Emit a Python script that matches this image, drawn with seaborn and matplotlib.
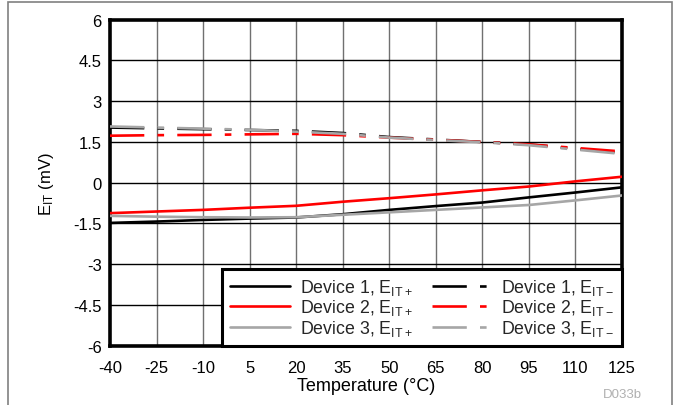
import matplotlib
matplotlib.use("Agg")
import matplotlib.pyplot as plt
import seaborn as sns
import pandas as pd
from matplotlib.patches import Rectangle

# Temperature sweep (°C)
temperature = [-40, -25, -10, 5, 20, 35, 50, 65, 80, 95, 110, 125]

# Rising threshold error E_IT+ (mV)
dev1_pos = [-1.48, -1.43, -1.37, -1.32, -1.28, -1.16, -1.00, -0.86, -0.73, -0.54, -0.36, -0.17]
dev2_pos = [-1.12, -1.06, -1.00, -0.92, -0.85, -0.70, -0.57, -0.43, -0.28, -0.14, 0.05, 0.22]
dev3_pos = [-1.22, -1.25, -1.27, -1.28, -1.27, -1.18, -1.09, -1.00, -0.91, -0.82, -0.65, -0.47]

# Falling threshold error E_IT- (mV)
dev1_neg = [2.03, 2.00, 1.97, 1.94, 1.91, 1.83, 1.68, 1.59, 1.50, 1.41, 1.25, 1.10]
dev2_neg = [1.73, 1.75, 1.76, 1.78, 1.80, 1.75, 1.66, 1.58, 1.50, 1.41, 1.28, 1.15]
dev3_neg = [2.07, 2.03, 1.99, 1.95, 1.88, 1.80, 1.66, 1.57, 1.49, 1.38, 1.22, 1.06]

x_ticks = [-40, -25, -10, 5, 20, 35, 50, 65, 80, 95, 110, 125]
y_ticks = [6, 4.5, 3, 1.5, 0, -1.5, -3, -4.5, -6]
y_tick_labels = ["6", "4.5", "3", "1.5", "0", "-1.5", "-3", "-4.5", "-6"]

sns.set_theme(style="white")
plt.rcParams["font.family"] = ["Liberation Sans", "DejaVu Sans"]
plt.rcParams["mathtext.fontset"] = "custom"
plt.rcParams["mathtext.rm"] = "Liberation Sans"
plt.rcParams["mathtext.it"] = "Liberation Sans"

BLACK = "#000000"
RED = "#FF0000"
GRAY = "#A6A6A6"
DASH = (0, (13, 5, 2.5, 5))
LW = 1.9
FS = 12

fig = plt.figure(figsize=(6.74, 4.06), dpi=100)
ax = fig.add_axes([0.1632, 0.146, 0.7596, 0.803])

series = [
    (dev1_pos, BLACK, "-", "Device 1, E$_{\\mathrm{IT+}}$"),
    (dev2_pos, RED, "-", "Device 2, E$_{\\mathrm{IT+}}$"),
    (dev3_pos, GRAY, "-", "Device 3, E$_{\\mathrm{IT+}}$"),
    (dev1_neg, BLACK, DASH, "Device 1, E$_{\\mathrm{IT\u2212}}$"),
    (dev2_neg, RED, DASH, "Device 2, E$_{\\mathrm{IT\u2212}}$"),
    (dev3_neg, GRAY, DASH, "Device 3, E$_{\\mathrm{IT\u2212}}$"),
]

for values, color, ls, label in series:
    df = pd.DataFrame({"temp": temperature, "eit": values})
    sns.lineplot(data=df, x="temp", y="eit", ax=ax, color=color,
                 linestyle=ls, linewidth=LW, label=label, zorder=3)

ax.set_xlim(-40, 125)
ax.set_ylim(-6, 6)
ax.set_xticks(x_ticks)
ax.set_xticklabels([str(t) for t in x_ticks])
ax.set_yticks(y_ticks)
ax.set_yticklabels(y_tick_labels)
ax.tick_params(axis="both", length=0, labelsize=FS, colors="black")
ax.tick_params(axis="x", pad=10)
ax.tick_params(axis="y", pad=6)

ax.grid(False)
for t in x_ticks[1:-1]:
    ax.axvline(t, color="#707070", linewidth=1.0, zorder=1)
for v in y_ticks[1:-1]:
    ax.axhline(v, color="black", linewidth=1.0, zorder=1)

for side in ["left", "right", "top", "bottom"]:
    ax.spines[side].set_visible(True)
    ax.spines[side].set_color("black")
    ax.spines[side].set_linewidth(2.6)

ax.set_xlabel("Temperature (°C)", fontsize=13, labelpad=1.5, color="black")
ax.set_ylabel("E$_{\\mathrm{IT}}$ (mV)", fontsize=FS, labelpad=12, color="black")

leg = ax.legend(loc="lower right", ncol=2, fontsize=12.8, frameon=True,
                fancybox=False, borderaxespad=0, handlelength=3.35,
                handletextpad=0.55, columnspacing=1.1, labelspacing=0.02,
                borderpad=0.45)
leg.get_frame().set_edgecolor("black")
leg.get_frame().set_linewidth(2.2)
leg.get_frame().set_facecolor("white")
leg.get_frame().set_alpha(1)
leg.set_zorder(5)

fig.text(0.953, 0.027, "D033b", fontsize=9.5, color="#B0B0B0", ha="right", va="center")

# Outer frame around the figure
fig.patches.append(Rectangle((8 / 674, -0.01), (672 - 8) / 674, 1 - 2.5 / 406 + 0.01,
                             transform=fig.transFigure, fill=False,
                             edgecolor="#808080", linewidth=1.2))

fig.savefig("out.png", dpi=100)
